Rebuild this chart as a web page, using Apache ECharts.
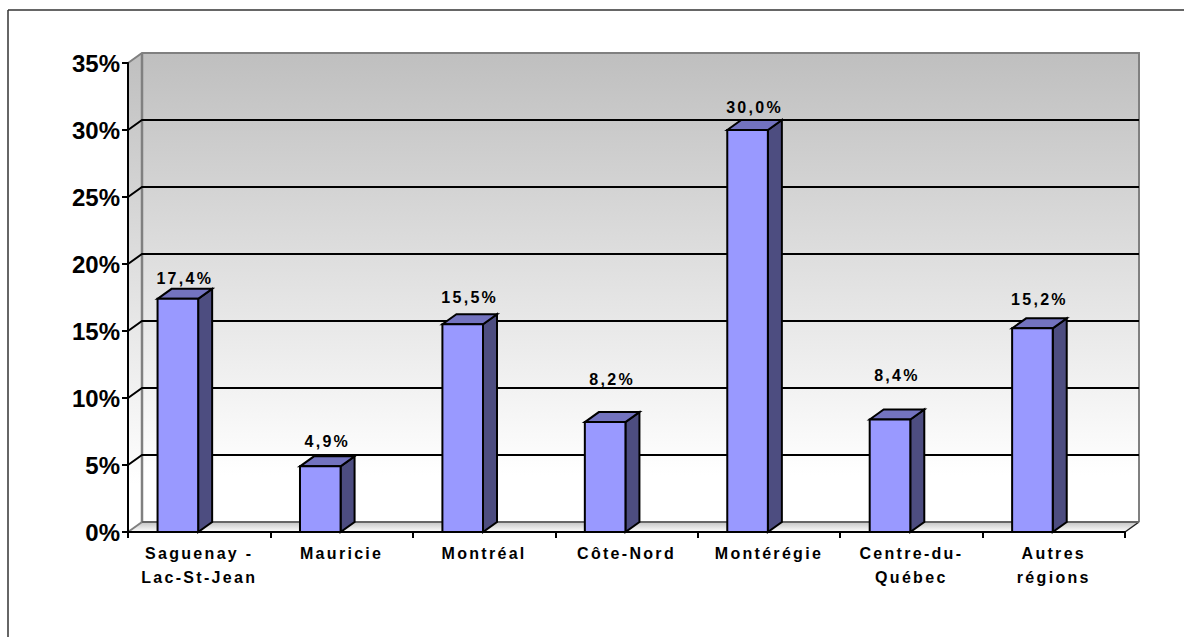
<!DOCTYPE html>
<html><head><meta charset="utf-8">
<script src="https://cdn.jsdelivr.net/npm/echarts@6/dist/echarts.min.js"></script>
<style>
html,body{margin:0;padding:0;background:#fff}
#c{width:1184px;height:637px}
svg text[style*="16px"]{letter-spacing:2.3px}
</style></head><body><div id="c"></div>
<script>
const categories = ['Saguenay -\nLac-St-Jean','Mauricie','Montréal','Côte-Nord','Montérégie','Centre-du-\nQuébec','Autres\nrégions'];
const values = [17.4,4.9,15.5,8.2,30.0,8.4,15.2];
const valueLabels = ['17,4%','4,9%','15,5%','8,2%','30,0%','8,4%','15,2%'];
const yTicks = [0,5,10,15,20,25,30,35];
// style: how far each value label sits above the bar's front-top edge, px
const labelRaise = [20,25,27,43,23,44,29];
const DX = 14, DY = -10;
const fam = '"Liberation Sans", Arial, sans-serif';
const chart = echarts.init(document.getElementById('c'), null, {renderer:'svg'});

function poly(points, fill, stroke, lw){
  return {type:'polygon', shape:{points}, style:{fill, stroke:stroke||'none', lineWidth:lw||0, lineJoin:'miter'}};
}
function wallRender(params, api){
  if(params.dataIndex!==0) return;
  const cs = params.coordSys;
  const l = cs.x, r = cs.x+cs.width, t = cs.y, b = cs.y+cs.height;
  const wallStops=[{offset:0,color:'#bfbfbf'},{offset:0.9,color:'#ffffff'},{offset:1,color:'#ffffff'}];
  return {type:'group',children:[
    poly([[l,t],[l+DX,t+DY],[l+DX,b+DY],[l,b]], new echarts.graphic.LinearGradient(0,0,0,1,wallStops)),
    poly([[l+DX,t+DY],[r+DX,t+DY],[r+DX,b+DY],[l+DX,b+DY]], new echarts.graphic.LinearGradient(0,0,0,1,wallStops)),
    poly([[l+DX,b+DY],[r+DX,b+DY],[r,b],[l,b]], new echarts.graphic.LinearGradient(0,0,0,1,[{offset:0,color:'#c4c4c4'},{offset:1,color:'#ffffff'}])),
    {type:'polyline',shape:{points:[[l,t],[l+DX,t+DY],[r+DX,t+DY],[r+DX,b+DY]]},style:{fill:'none',stroke:'#808080',lineWidth:2}},
    {type:'polyline',shape:{points:[[l+DX,t+DY],[l+DX,b+DY]]},style:{fill:'none',stroke:'#808080',lineWidth:2.5}},
    {type:'polyline',shape:{points:[[l,b],[l+DX,b+DY]]},style:{fill:'none',stroke:'#808080',lineWidth:2}},
    {type:'polyline',shape:{points:[[r,b],[r+DX,b+DY]]},style:{fill:'none',stroke:'#222',lineWidth:1.5}},
    {type:'polyline',shape:{points:[[l+DX,b+DY],[r+DX,b+DY]]},style:{fill:'none',stroke:'#666',lineWidth:2}}
  ]};
}
function gridRender(params, api){
  const v = api.value(0);
  const cs = params.coordSys;
  const l = cs.x, r = cs.x+cs.width;
  const y = api.coord([0,v])[1];
  const kids=[];
  if(v>0&&v<35) kids.push({type:'polyline',shape:{points:[[l,y],[l+DX,y+DY],[r+DX,y+DY]]},style:{fill:'none',stroke:'#000',lineWidth:2}});
  return {type:'group',children:kids};
}
function barRender(params, api){
  const i = api.value(0), v = api.value(1);
  const c = api.coord([i,v]), base = api.coord([i,0]);
  const band = api.size([1,0])[0];
  const w = band*0.285;
  const x0 = c[0]-band*0.150-w/2, x1 = x0+w, t = c[1], b = base[1];
  const k='#000', lw=2;
  return {type:'group',children:[
    poly([[x1,t],[x1+DX,t+DY],[x1+DX,b+DY],[x1,b]],'#4d4d80',k,lw),
    poly([[x0,t],[x0+DX,t+DY],[x1+DX,t+DY],[x1,t]],'#7373bf',k,lw),
    poly([[x0,t],[x1,t],[x1,b],[x0,b]],'#9999ff',k,lw),
    {type:'text',x:(x0+x1)/2+7,y:t-labelRaise[i],style:{text:valueLabels[i],font:'bold 16px '+fam,fill:'#000',align:'center',verticalAlign:'middle'}}
  ]};
}
chart.setOption({
  animation:false,
  backgroundColor:'#fff',
  grid:{left:128,right:59,top:63,bottom:105,containLabel:false},
  graphic:[
    {type:'line',silent:true,shape:{x1:8,y1:10,x2:1184,y2:10},style:{stroke:'#333',lineWidth:1.5}},
    {type:'line',silent:true,shape:{x1:8,y1:10,x2:8,y2:637},style:{stroke:'#333',lineWidth:1.5}}
  ],
  xAxis:{type:'category',data:categories,z:5,
    axisLine:{show:true,lineStyle:{color:'#000',width:2}},
    axisTick:{show:true,alignWithLabel:false,length:6,lineStyle:{color:'#000',width:2}},
    axisLabel:{interval:0,fontFamily:fam,fontWeight:'bold',fontSize:16,color:'#000',margin:9,lineHeight:24},
    splitLine:{show:false}},
  yAxis:{type:'value',min:0,max:35,interval:5,z:5,
    axisLine:{show:true,lineStyle:{color:'#000',width:2}},
    axisTick:{show:true,length:6,lineStyle:{color:'#000',width:2}},
    axisLabel:{formatter:'{value}%',fontFamily:fam,fontWeight:'bold',fontSize:24,color:'#000',margin:8},
    splitLine:{show:false}},
  series:[
    {type:'custom',z:1,silent:true,renderItem:wallRender,data:[[0]],encode:{x:0,y:0},clip:false},
    {type:'custom',z:2,silent:true,renderItem:gridRender,data:yTicks.map(v=>[v]),encode:{y:0},clip:false},
    {type:'custom',z:3,silent:true,renderItem:barRender,data:values.map((v,i)=>[i,v]),encode:{x:0,y:1},clip:false}
  ]
});
</script></body></html>
